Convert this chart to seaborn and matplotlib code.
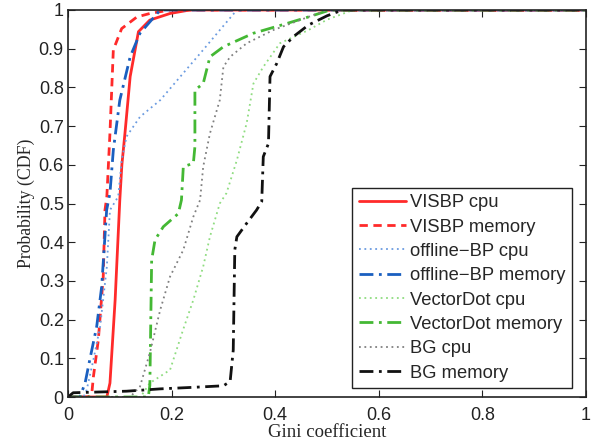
import matplotlib
matplotlib.use("Agg")
import matplotlib.pyplot as plt
import seaborn as sns
import pandas as pd

labels = ["VISBP cpu", "VISBP memory", "offline\u2212BP cpu", "offline\u2212BP memory",
          "VectorDot cpu", "VectorDot memory", "BG cpu", "BG memory"]

visbp_cpu_x = [0, 0.075, 0.081, 0.091, 0.100, 0.104, 0.110, 0.120, 0.136, 0.158, 0.197, 0.235, 1.0]
visbp_cpu_y = [0, 0, 0.036, 0.251, 0.509, 0.60, 0.682, 0.828, 0.944, 0.974, 0.991, 1.0, 1.0]

visbp_mem_x = [0, 0.040, 0.046, 0.049, 0.0585, 0.068, 0.0714, 0.075, 0.081, 0.0875, 0.1036, 0.133, 0.158, 0.197, 1.0]
visbp_mem_y = [0, 0, 0.01, 0.052, 0.147, 0.311, 0.483, 0.518, 0.682, 0.897, 0.952, 0.982, 0.991, 1.0, 1.0]

obp_cpu_x = [0, 0.03, 0.036, 0.049, 0.062, 0.075, 0.081, 0.097, 0.1036, 0.113, 0.139, 0.178, 0.222, 0.261, 0.293, 0.326, 1.0]
obp_cpu_y = [0, 0, 0.018, 0.096, 0.182, 0.337, 0.483, 0.518, 0.612, 0.673, 0.724, 0.767, 0.836, 0.897, 0.948, 1.0, 1.0]

obp_mem_x = [0, 0.023, 0.033, 0.042, 0.0554, 0.065, 0.0746, 0.081, 0.0875, 0.100, 0.120, 0.139, 0.178, 1.0]
obp_mem_y = [0, 0, 0.036, 0.096, 0.182, 0.285, 0.483, 0.527, 0.638, 0.767, 0.879, 0.94, 1.0, 1.0]

vd_cpu_x = [0, 0.14, 0.158, 0.197, 0.222, 0.242, 0.261, 0.274, 0.293, 0.306, 0.326, 0.345, 0.358, 0.377, 0.409, 0.435, 0.464, 0.50, 0.55, 1.0]
vd_cpu_y = [0, 0, 0.036, 0.07, 0.173, 0.251, 0.337, 0.414, 0.50, 0.527, 0.612, 0.708, 0.810, 0.853, 0.914, 0.93, 0.948, 0.975, 1.0, 1.0]

vd_mem_x = [0, 0.155, 0.158, 0.1615, 0.168, 0.184, 0.213, 0.219, 0.2226, 0.242, 0.245, 0.245, 0.261, 0.274, 0.30, 0.358, 0.422, 0.464, 0.506, 1.0]
vd_mem_y = [0, 0, 0.03, 0.354, 0.406, 0.44, 0.474, 0.509, 0.595, 0.604, 0.647, 0.793, 0.810, 0.879, 0.905, 0.94, 0.965, 0.982, 1.0, 1.0]

bg_cpu_x = [0, 0.12, 0.139, 0.158, 0.178, 0.197, 0.2226, 0.242, 0.255, 0.261, 0.274, 0.293, 0.30, 0.313, 0.345, 0.396, 0.448, 0.50, 1.0]
bg_cpu_y = [0, 0, 0.027, 0.114, 0.225, 0.311, 0.38, 0.466, 0.509, 0.595, 0.681, 0.767, 0.853, 0.879, 0.914, 0.948, 0.974, 1.0, 1.0]

bg_mem_x = [0, 0.01, 0.113, 0.178, 0.242, 0.30, 0.313, 0.319, 0.322, 0.326, 0.345, 0.364, 0.374, 0.377, 0.387, 0.390, 0.403, 0.416, 0.435, 0.464, 0.50, 0.53, 1.0]
bg_mem_y = [0, 0.011, 0.015, 0.021, 0.025, 0.029, 0.04, 0.121, 0.38, 0.414, 0.449, 0.483, 0.505, 0.621, 0.655, 0.828, 0.862, 0.905, 0.931, 0.961, 0.985, 1.0, 1.0]

series_x = [visbp_cpu_x, visbp_mem_x, obp_cpu_x, obp_mem_x, vd_cpu_x, vd_mem_x, bg_cpu_x, bg_mem_x]
series_y = [visbp_cpu_y, visbp_mem_y, obp_cpu_y, obp_mem_y, vd_cpu_y, vd_mem_y, bg_cpu_y, bg_mem_y]

colors = ["#ff2a2a", "#ff2a2a", "#6b9be0", "#1a5fc0", "#8fdc80", "#44b834", "#808080", "#111111"]
styles = ["-", (0, (3, 2)), (0, (1, 2)), (0, (5, 2, 1, 2)), (0, (1, 2)), (0, (5, 2, 1, 2)), (0, (1, 2)), (0, (5, 2, 1, 2))]
widths = [2.0, 2.0, 1.3, 2.0, 1.3, 2.0, 1.3, 2.0]

sns.set_style("ticks")
plt.rcParams["font.family"] = ["Liberation Sans", "DejaVu Sans"]
plt.rcParams["xtick.direction"] = "in"
plt.rcParams["ytick.direction"] = "in"
plt.rcParams["xtick.top"] = True
plt.rcParams["ytick.right"] = True

fig = plt.figure(figsize=(5.94, 4.43), dpi=100)
ax = fig.add_axes([68 / 594, 1 - 397 / 443, 518 / 594, 387 / 443])

for lab, xs, ys, c, ls, lw in zip(labels, series_x, series_y, colors, styles, widths):
    df = pd.DataFrame({"x": xs, "y": ys})
    sns.lineplot(data=df, x="x", y="y", ax=ax, sort=False, estimator=None,
                 color=c, linestyle=ls, linewidth=lw, label=lab)

ax.set_xlim(0, 1)
ax.set_ylim(0, 1)
ax.set_xticks([0, 0.2, 0.4, 0.6, 0.8, 1])
ax.set_xticklabels(["0", "0.2", "0.4", "0.6", "0.8", "1"])
ax.set_yticks([i / 10 for i in range(11)])
ax.set_yticklabels(["0"] + [f"{i/10:.1f}" for i in range(1, 10)] + ["1"])
ax.tick_params(axis="both", labelsize=13, length=5, width=0.8, colors="#222222")
ax.tick_params(axis="x", pad=7.5)
ax.tick_params(axis="y", pad=3)
for sp in ax.spines.values():
    sp.set_linewidth(1.2)
    sp.set_color("#222222")

ax.set_xlabel("Gini coefficient", family=["Liberation Serif"], fontsize=13.5, labelpad=0)
ax.set_ylabel("Probability (CDF)", family=["Liberation Serif"], fontsize=12.8, labelpad=3)

leg = ax.legend(loc="lower right", bbox_to_anchor=(572 / 594, 1 - 388 / 443),
                bbox_transform=fig.transFigure, fontsize=13.2, frameon=True,
                fancybox=False, edgecolor="#222222", framealpha=1,
                handlelength=2.6, handletextpad=0.2, labelspacing=0.4,
                borderpad=0.35, borderaxespad=0)
leg.get_frame().set_linewidth(1.0)

fig.savefig("out.png", dpi=100)
